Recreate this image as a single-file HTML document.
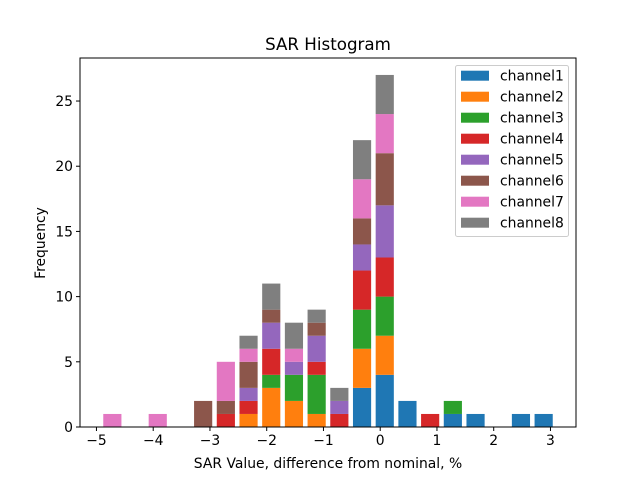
<!DOCTYPE html>
<html><head><meta charset="utf-8"><style>
body{margin:0;background:#fff;}
svg{font-family:"DejaVu Sans","Liberation Sans",sans-serif;}
</style></head><body>
<svg id="c" width="640" height="480" viewBox="0 0 640 480">
<rect width="640" height="480" fill="#fff"/>
<text x="328" y="50" font-size="16.7" text-anchor="middle">SAR Histogram</text>
<text x="328" y="468" font-size="13.9" text-anchor="middle">SAR Value, difference from nominal, %</text>
<text x="45" y="243" font-size="13.9" text-anchor="middle" transform="rotate(-90 45 243)">Frequency</text>
<g id="bars"></g><g id="axes"></g><g id="legend"></g>
</svg>
<script>
const binCenters=[-4.72,-4.32,-3.92,-3.52,-3.12,-2.72,-2.32,-1.92,-1.52,-1.12,-0.72,-0.32,0.08,0.48,0.88,1.28,1.68,2.08,2.48,2.88];
const seriesNames=["channel1","channel2","channel3","channel4","channel5","channel6","channel7","channel8"];
const ch1=[0,0,0,0,0,0,0,0,0,0,0,3,4,2,0,1,1,0,1,1];
const ch2=[0,0,0,0,0,0,1,3,2,1,0,3,3,0,0,0,0,0,0,0];
const ch3=[0,0,0,0,0,0,0,1,2,3,0,3,3,0,0,1,0,0,0,0];
const ch4=[0,0,0,0,0,1,1,2,0,1,1,3,3,0,1,0,0,0,0,0];
const ch5=[0,0,0,0,0,0,1,2,1,2,1,2,4,0,0,0,0,0,0,0];
const ch6=[0,0,0,0,2,1,2,1,0,1,0,2,4,0,0,0,0,0,0,0];
const ch7=[1,0,1,0,0,3,1,0,1,0,0,3,3,0,0,0,0,0,0,0];
const ch8=[0,0,0,0,0,0,1,2,2,1,1,3,3,0,0,0,0,0,0,0];
const xTicks=[-5,-4,-3,-2,-1,0,1,2,3];
const yTicks=[0,5,10,15,20,25];
const colors=["#1f77b4","#ff7f0e","#2ca02c","#d62728","#9467bd","#8c564b","#e377c2","#7f7f7f"];
const series=[ch1,ch2,ch3,ch4,ch5,ch6,ch7,ch8];
const X0=80,X1=576,Y0=58,Y1=427,xmin=-5.29,xmax=3.45,ymax=28.3;
const xs=v=>X0+(v-xmin)/(xmax-xmin)*(X1-X0);
const ys=v=>Y1-v/ymax*(Y1-Y0);
const NS="http://www.w3.org/2000/svg";
function mk(t,a,p){const e=document.createElementNS(NS,t);for(const k in a)e.setAttribute(k,a[k]);p.appendChild(e);return e;}
const bw=0.32;
const bars=document.getElementById('bars');
binCenters.forEach((c,i)=>{let cum=0;series.forEach((s,j)=>{const v=s[i];if(v>0){
const r=mk('rect',{x:xs(c-bw/2),y:ys(cum+v),width:xs(c+bw/2)-xs(c-bw/2),height:ys(cum)-ys(cum+v),fill:colors[j]},bars);

}cum+=v;});});
const ax=document.getElementById('axes');
const fr=mk('rect',{x:X0,y:Y0,width:X1-X0,height:Y1-Y0,fill:'none',stroke:'#000','stroke-width':1},ax);


xTicks.forEach(t=>{const x=xs(t);mk('line',{x1:x,x2:x,y1:Y1,y2:Y1+4,stroke:'#000'},ax);
const tx=mk('text',{x:x,y:Y1+18,'font-size':13.9,'text-anchor':'middle'},ax);tx.textContent=(t<0?'\u2212'+(-t):t);

});
yTicks.forEach(t=>{const y=ys(t);mk('line',{x1:X0-4,x2:X0,y1:y,y2:y,stroke:'#000'},ax);
const tx=mk('text',{x:X0-7,y:y+5,'font-size':13.9,'text-anchor':'end'},ax);tx.textContent=t;

});
const lg=document.getElementById('legend');
const box=mk('rect',{x:455.5,y:65.5,width:113,height:171,rx:2,fill:'#fff',stroke:'#ccc','fill-opacity':0.8},lg);


seriesNames.forEach((n,j)=>{const y=75.7+j*21;
mk('rect',{x:461,y:y-5,width:28,height:10,fill:colors[j]},lg);
const tx=mk('text',{x:500,y:y+5,'font-size':13.9},lg);tx.textContent=n;

});
</script>
</body></html>
